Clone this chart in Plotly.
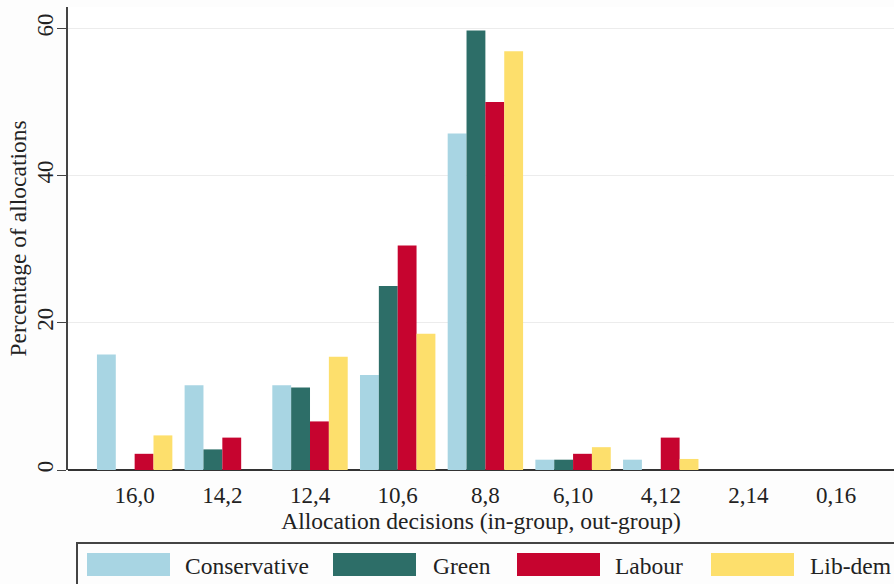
import plotly.graph_objects as go

categories = ["16,0", "14,2", "12,4", "10,6", "8,8", "6,10", "4,12", "2,14", "0,16"]
conservative = [15.7, 11.5, 11.5, 12.9, 45.7, 1.4, 1.4, 0, 0]
green = [0, 2.8, 11.2, 25.0, 59.7, 1.4, 0, 0, 0]
labour = [2.2, 4.4, 6.6, 30.5, 50.0, 2.2, 4.4, 0, 0]
libdem = [4.7, 0, 15.4, 18.5, 56.9, 3.1, 1.5, 0, 0]
series_names = ["Conservative", "Green", "Labour", "Lib-dem"]
series_values = [conservative, green, labour, libdem]
colors = ["#a8d5e3", "#2d6e68", "#c6042f", "#fddf6c"]
y_ticks = [0, 20, 40, 60]

FONT = "Liberation Serif"
W, H = 894, 584
ML, MR, MT, MB = 68, 0, 7, 114
PW, PH = W - ML - MR, H - MT - MB

fig = go.Figure()
for name, vals, col in zip(series_names, series_values, colors):
    fig.add_trace(go.Bar(x=categories, y=vals, name=name, marker_color=col,
                         marker_line_width=0, showlegend=False))

fig.update_layout(
    width=W, height=H,
    margin=dict(l=ML, r=MR, t=MT, b=MB, autoexpand=False),
    paper_bgcolor="#fdfdfd", plot_bgcolor="#ffffff",
    barmode="group", bargap=0.14, bargroupgap=0,
    font=dict(family=FONT, size=23, color="#222"),
    xaxis=dict(type="category", range=[-0.76, 8.66], showgrid=False,
               ticks="", showline=False, zeroline=False, automargin=False,
               ticklabelstandoff=9,
               tickfont=dict(size=23, family=FONT),
               title=dict(text="Allocation decisions (in-group, out-group)",
                          font=dict(size=23.5, family=FONT), standoff=2)),
    yaxis=dict(range=[0, 62.9], tickvals=y_ticks, ticktext=[str(t) for t in y_ticks],
               tickangle=-90, ticks="outside", ticklen=9, tickwidth=1.3,
               tickcolor="#444", showline=True, linecolor="#444", linewidth=1.5,
               showgrid=True, gridcolor="#ececec", gridwidth=1.3,
               zeroline=True, zerolinecolor="#333", zerolinewidth=1.8,
               automargin=False, ticklabelstandoff=-5,
               tickfont=dict(size=23, family=FONT),
               title=dict(text="Percentage of allocations",
                          font=dict(size=23.5, family=FONT), standoff=0)),
)

def px_to_paper(px, py):
    return (px - ML) / PW, (H - MB - py) / PH

shapes = []
annotations = []
# legend box
x0, y0 = px_to_paper(77, 543)
x1, y1 = px_to_paper(900, 590)
shapes.append(dict(type="rect", xref="paper", yref="paper", x0=x0, y0=y0, x1=x1, y1=y1,
                   line=dict(color="#444", width=2), fillcolor="rgba(0,0,0,0)"))
sw_x = [87, 333, 517, 711]
tx_x = [183, 431, 613, 808]
for name, col, sx, tx in zip(series_names, colors, sw_x, tx_x):
    a0, b0 = px_to_paper(sx, 553)
    a1, b1 = px_to_paper(sx + 83, 576)
    shapes.append(dict(type="rect", xref="paper", yref="paper", x0=a0, y0=b1, x1=a1, y1=b0,
                       line=dict(width=0), fillcolor=col))
    ax, ay = px_to_paper(tx, 566)
    annotations.append(dict(xref="paper", yref="paper", x=ax, y=ay, text=name,
                            showarrow=False, xanchor="left", yanchor="middle",
                            font=dict(size=23.5, family=FONT, color="#222")))
fig.update_layout(shapes=shapes, annotations=annotations)

fig.write_html("out.html", config={"displayModeBar": False},
               post_script="document.body.style.margin='0';document.body.style.overflow='hidden';")
